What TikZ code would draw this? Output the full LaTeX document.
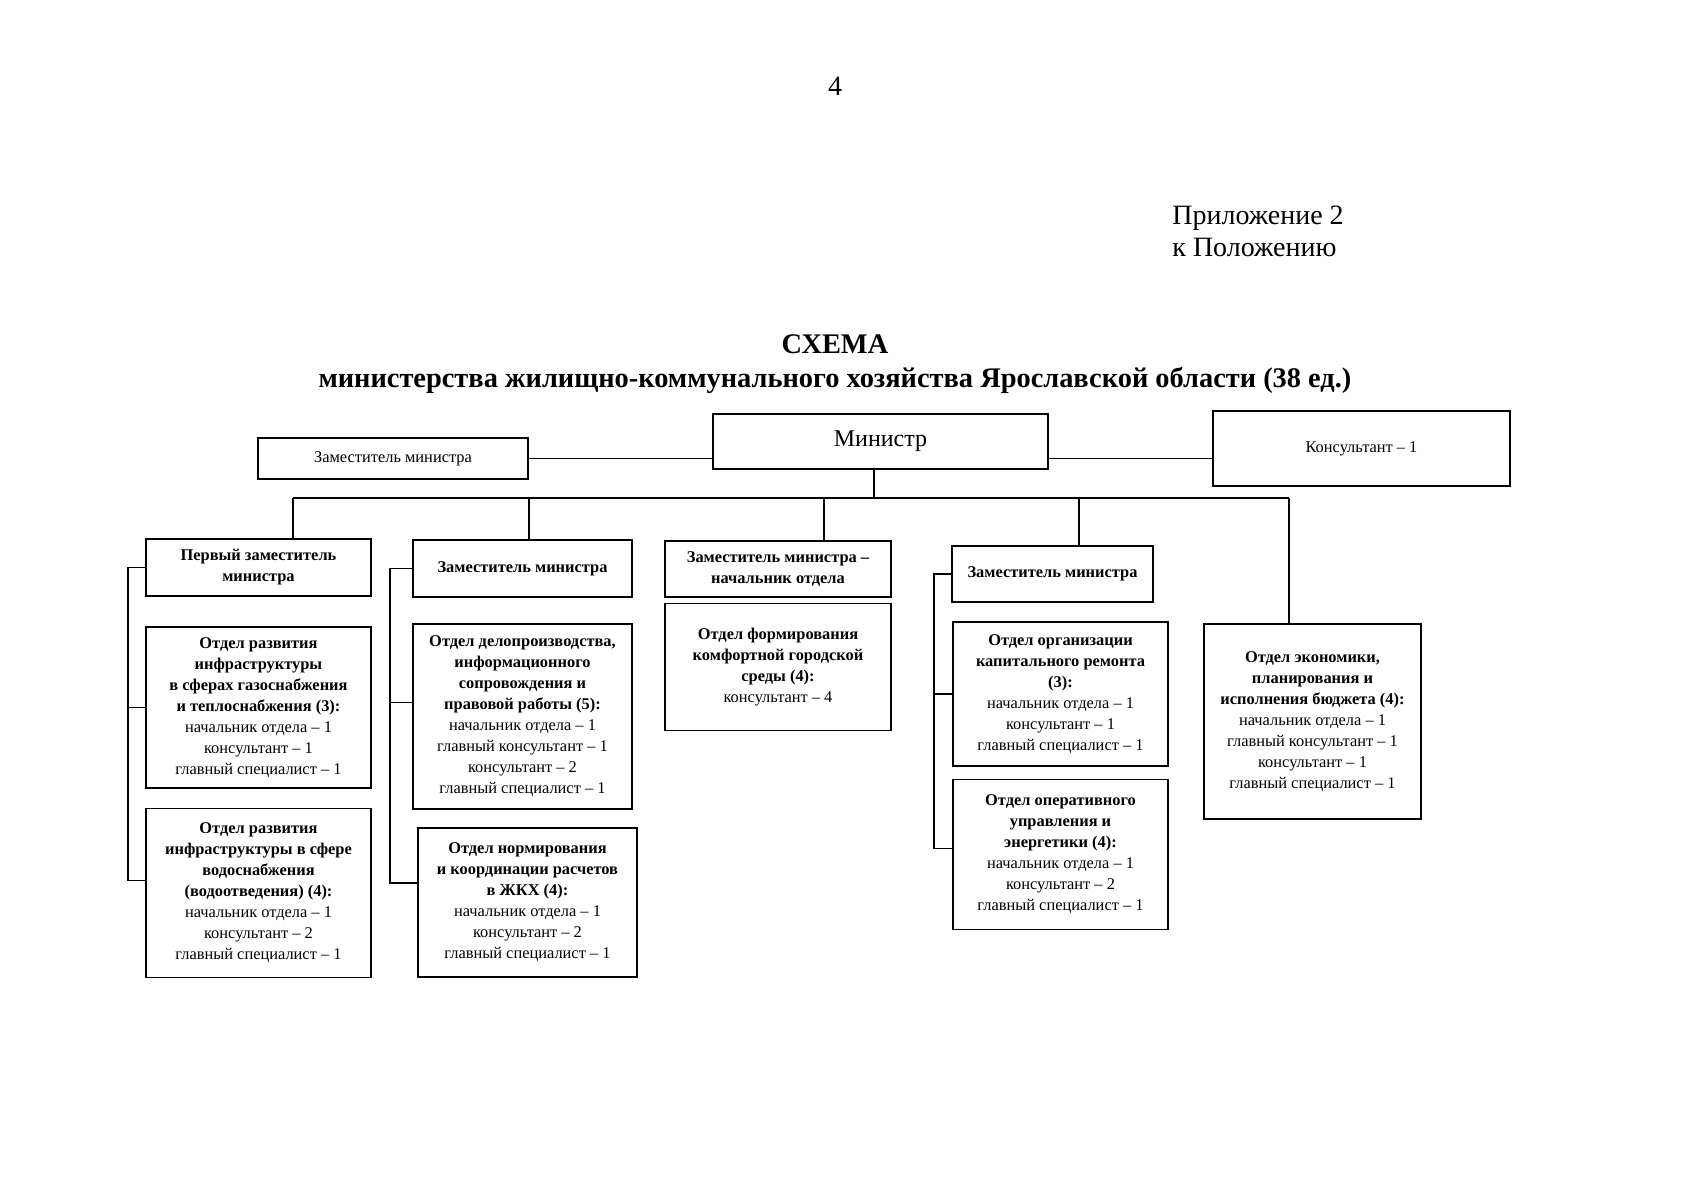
\documentclass[tikz,border=0pt]{standalone}
\usepackage{fontspec}
\setmainfont{Liberation Serif}
\usetikzlibrary{positioning}
\tikzset{
  bloc/.style={draw,line width=0.8pt,align=center,inner sep=1pt,
    font=\fontsize{8.2}{10.5}\selectfont},
  tete/.style={bloc,font=\fontsize{8.2}{10.5}\selectfont\bfseries},
  dim/.style 2 args={minimum width=#1,minimum height=#2},
  trait/.style={line width=0.7pt},
  titre/.style={inner sep=0pt,font=\fontsize{14}{16}\selectfont},
}

\begin{document}
\begin{tikzpicture}[x=0.5pt,y=-0.5pt]
  \useasboundingbox[fill=white] (0,0) rectangle (1697,1200);
  \node[titre] (page) at (835,86) {4};
  \node[titre,anchor=north west,align=left] (pril) at (1172,206) {Приложение 2\\к Положению};
  \node[titre,align=center,font=\fontsize{14.2}{17}\selectfont\bfseries] (schema) at (835,364.5)
    {СХЕМА\\министерства жилищно-коммунального хозяйства Ярославской области (38 ед.)};

  \node[bloc,dim={135pt}{20.5pt}] (zam) at (393,458.5) {Заместитель министра};
  \node[bloc,dim={167.5pt}{27.5pt},font=\fontsize{12}{14}\selectfont] (min) at (880.5,441.5) {Министр};
  \node[bloc,dim={148.5pt}{37.5pt}] (kons) at (1361.5,448.5) {Консультант – 1};

  \node[tete,dim={112.5pt}{28.5pt}] (h1) at (258.5,567.5) {Первый заместитель\\министра};
  \node[tete,dim={109.5pt}{28.5pt}] (h2) at (522.5,568.5) {Заместитель министра};
  \node[tete,dim={113pt}{28pt}] (h3) at (778,569) {Заместитель министра –\\начальник отдела};
  \node[tete,dim={100.5pt}{28pt}] (h4) at (1052.5,574) {Заместитель министра};

  \node[bloc,dim={112.5pt}{80.5pt}] (o1a) at (258.5,707.5) {\textbf{Отдел развития}\\\textbf{инфраструктуры}\\\textbf{в сферах газоснабжения}\\\textbf{и теплоснабжения (3):}\\начальник отдела – 1\\консультант – 1\\главный специалист – 1};
  \node[bloc,dim={112.5pt}{84.5pt},below=9.5pt of o1a] (o1b) {\textbf{Отдел развития}\\\textbf{инфраструктуры в сфере}\\\textbf{водоснабжения}\\\textbf{(водоотведения) (4):}\\начальник отдела – 1\\консультант – 2\\главный специалист – 1};
  \node[bloc,dim={109.5pt}{92.5pt}] (o2a) at (522.5,716.5) {\textbf{Отдел делопроизводства,}\\\textbf{информационного}\\\textbf{сопровождения и}\\\textbf{правовой работы (5):}\\начальник отдела – 1\\главный консультант – 1\\консультант – 2\\главный специалист – 1};
  \node[bloc,dim={109.5pt}{74.5pt}] (o2b) at (527.5,902.5) {\textbf{Отдел нормирования}\\\textbf{и координации расчетов}\\\textbf{в ЖКХ (4):}\\начальник отдела – 1\\консультант – 2\\главный специалист – 1};
  \node[bloc,dim={113pt}{63.5pt},below=2.5pt of h3] (o3) {\textbf{Отдел формирования}\\\textbf{комфортной городской}\\\textbf{среды (4):}\\консультант – 4};
  \node[bloc,dim={107.5pt}{72pt}] (o4a) at (1060.5,694) {\textbf{Отдел организации}\\\textbf{капитального ремонта}\\\textbf{(3):}\\начальник отдела – 1\\консультант – 1\\главный специалист – 1};
  \node[bloc,dim={107.5pt}{75pt},below=6pt of o4a] (o4b) {\textbf{Отдел оперативного}\\\textbf{управления и}\\\textbf{энергетики (4):}\\начальник отдела – 1\\консультант – 2\\главный специалист – 1};
  \node[bloc,dim={108.5pt}{97.5pt}] (o5) at (1312.5,721.5) {\textbf{Отдел экономики,}\\\textbf{планирования и}\\\textbf{исполнения бюджета (4):}\\начальник отдела – 1\\главный консультант – 1\\консультант – 1\\главный специалист – 1};

  \draw[trait] (zam.east) -- (zam.east -| min.west);
  \draw[trait] (zam.east -| min.east) -- (zam.east -| kons.west);

  \coordinate (s0) at (874,498);
  \coordinate (s1) at (293,498);
  \coordinate (s2) at (529,498);
  \coordinate (s3) at (824,498);
  \coordinate (s4) at (1079,498);
  \coordinate (s5) at (1289,498);
  \draw[trait] (s0 |- min.south) -- (s0);
  \draw[trait] (s1) -- (s5);
  \foreach \c/\n in {s1/h1,s2/h2,s3/h3,s4/h4,s5/o5}
    \draw[trait] (\c) -- (\c |- \n.north);

  \coordinate (g1) at (128,0);
  \coordinate (g2) at (390,0);
  \coordinate (g4) at (934,0);
  \coordinate (j1b) at ([yshift=6.25pt]o1b.west);
  \coordinate (j2a) at ([yshift=7pt]o2a.west);
  \coordinate (j2b) at ([yshift=9.75pt]o2b.west);
  \coordinate (j4b) at ([yshift=3pt]o4b.west);
  \draw[trait] (h1.west) -- (h1.west -| g1) |- (j1b);
  \draw[trait] (o1a.west) -- (o1a.west -| g1);
  \draw[trait] (h2.west) -- (h2.west -| g2) |- (j2b);
  \draw[trait] (j2a) -- (j2a -| g2);
  \draw[trait] (h4.west) -- (h4.west -| g4) |- (j4b);
  \draw[trait] (o4a.west) -- (o4a.west -| g4);
\end{tikzpicture}
\end{document}
